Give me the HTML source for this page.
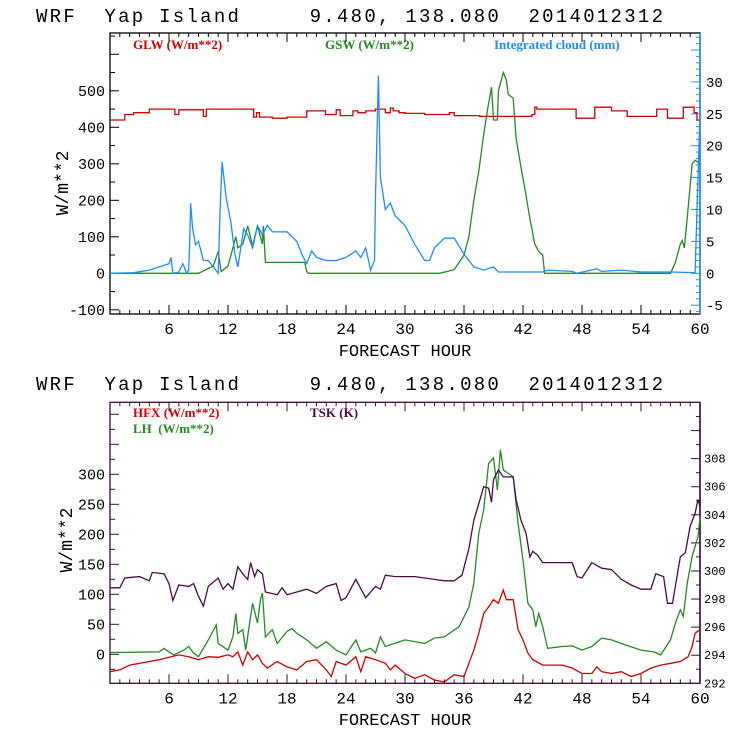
<!DOCTYPE html>
<html><head><meta charset="utf-8"><style>
html,body{margin:0;padding:0;background:#fff;}
svg{display:block;}
text{font-family:"Liberation Mono",monospace;}
.lg{font-family:"Liberation Serif",serif;font-weight:bold;font-size:13px;}
</style></head><body>
<svg id="chart" width="740" height="740" viewBox="0 0 740 740" xmlns="http://www.w3.org/2000/svg">
<text x="36" y="22" font-size="19" textLength="627" xml:space="preserve">WRF  Yap Island     9.480, 138.080  2014012312</text>
<text x="36" y="390" font-size="19" textLength="627" xml:space="preserve">WRF  Yap Island     9.480, 138.080  2014012312</text>
<text class="lg" x="133" y="49" fill="#d00000">GLW (W/m**2)</text>
<text class="lg" x="325" y="49" fill="#228b22">GSW (W/m**2)</text>
<text class="lg" x="494" y="49" fill="#1e8cff">Integrated cloud (mm)</text>
<text class="lg" x="133" y="417" fill="#d00000">HFX (W/m**2)</text>
<text class="lg" x="133" y="433" fill="#228b22" xml:space="preserve">LH  (W/m**2)</text>
<text class="lg" x="310" y="417" fill="#4b0a4b">TSK (K)</text>
<text x="405" y="356" font-size="17" text-anchor="middle">FORECAST HOUR</text>
<text x="405" y="725" font-size="17" text-anchor="middle">FORECAST HOUR</text>
<text transform="translate(68,183) rotate(-90)" font-size="18" text-anchor="middle">W/m**2</text>
<text transform="translate(72,540) rotate(-90)" font-size="18" text-anchor="middle">W/m**2</text>
<g id="g"></g>
</svg>
<script>
const glwHours=[0,1.5,2.4,4,6.3,6.6,7,9.5,9.8,12,14.6,14.9,15.2,16.5,18,20,21.9,23,23.4,24,24.7,25.2,26,27,28,28.5,28.8,29.4,30,31,32,34.5,35,35.5,37.6,42.9,43.2,43.4,43.8,47.4,47.6,49.3,49.6,51,51.3,52.6,55.3,55.6,56.7,58.3,59.4,59.7,60];
const glwValues=[420,435,440,450,450,435,448,430,450,450,428,440,428,425,428,445,435,448,432,432,445,440,445,450,440,453,445,440,438,438,435,440,432,432,430,435,455,450,450,425,425,455,455,445,445,430,430,450,425,455,440,420,420];
const gswHours=[0,9,10.5,11,11.3,12,12.8,13,13.5,14,14.5,15,15.5,15.6,15.8,17,19.8,20,20.2,33.5,35,36,36.5,37,37.5,38,38.4,38.8,39,39.4,39.5,40,40.3,40.5,41,41.3,41.8,42.2,42.7,43.2,43.6,44,44.2,57,57.5,58,58.2,58.4,58.7,59.2,59.5,60];
const gswValues=[0,0,20,60,5,20,100,70,80,130,75,130,80,130,30,30,30,5,0,0,10,50,100,200,280,380,450,510,420,420,500,550,530,490,480,370,290,230,150,80,60,50,0,0,30,80,90,70,150,300,310,300];
const cloudHours=[0,2.4,4,5,6,6.2,6.4,7,7.4,7.8,8,8.1,8.2,8.4,8.7,9,9.5,10,10.5,11,11.2,11.4,11.8,12.3,12.7,13,13.3,13.6,14,14.5,15,15.5,16,16.5,17,18,19,19.5,20,20.5,21,22,23,24,25,25.5,26,26.5,26.9,27,27.3,27.5,28,28.5,29,30,31,32,32.5,33,34,35,36,37,38,39,39.5,44,44.5,47,47.5,49.5,50,52,54,57,59.5,59.7,60];
const cloudValues=[0,0.1,0.5,1,1.5,2.5,0,0.2,1.5,0,0.5,5,11,7,4.5,5,2,2,1,0,10,17.5,12,8,3,1,4,7,6,4,7.5,6,7.5,6.5,6.5,6.5,5,3,1.5,3.5,2.5,2,2,2.5,3.5,2.5,4,0.5,2,12,31,15,10,11,9,7.5,4.5,2,2,4,5.5,5.5,3,1,0.5,1,0.2,0.2,0.5,0.3,0,0.7,0.3,0.5,0.2,0.2,0.1,10,25];
const hfxHours=[0,1,2,4,5,6,7,8,9,10,11,12,12.5,13,13.5,14,14.5,15,15.5,16,17,18,19,20,21,22,22.5,23,24,25,25.5,26,27,28,28.5,29,30,31,32,33,34,35,36,36.5,37,37.5,38,38.5,39,39.5,40,40.3,41,41.5,42,42.5,43,44,46,47,48,49,49.5,50,51,52,53,54,55,56,57,58,58.8,59.2,59.5,60];
const hfxValues=[-29,-26,-18,-12,-9,-5,-1,-4,-9,-4,-5,-1,-4,4,-18,4,-9,-1,-15,-23,-12,-21,-26,-12,-9,-26,-37,-12,-18,-4,-29,-4,-9,-15,-26,-18,-32,-40,-34,-43,-46,-34,-37,-15,7,35,68,79,91,85,107,91,91,41,24,2,-9,-18,-18,-23,-32,-32,-21,-29,-32,-29,-37,-32,-23,-18,-15,-12,-4,13,35,41];
const lhHours=[0,5,5.5,6,6.5,7.5,8,8.5,9,10,10.8,11,12,12.5,12.8,13,13.5,13.8,14.2,14.5,15,15.3,15.5,15.8,16.5,17,18,18.5,19,20,21,22,23,24,25,25.5,26.5,27,27.5,28,30,32,33,34,35.5,36.5,37,37.5,38,38.5,39,39.4,39.7,40,41,41.5,42,42.5,43,43.3,43.6,44,44.5,46,47,48,49,50,51,52,54,55.3,56,57,57.5,58,58.3,58.7,59.2,59.8,60];
const lhValues=[3,4,10,4,-1,7,13,2,-4,24,49,18,7,29,68,35,41,7,52,85,52,91,102,29,41,18,38,43,35,24,10,21,7,-1,24,4,10,2,29,13,24,18,27,29,46,79,118,202,241,318,327,274,341,307,296,218,157,85,74,46,68,46,10,13,14,7,13,27,24,18,7,4,-1,24,52,74,63,118,163,196,229];
const tskHours=[0,1,1.5,3,4,4.3,5.5,6,6.4,7,8,8.5,9,9.5,10,11,11.5,12,12.5,13,13.5,14,14.3,14.7,15,15.5,15.8,17,17.5,18,19,20,21,22,23,23.5,24,25,26,27,27.5,28,29,31,33,34,35,35.8,36.5,37,37.5,38,38.5,38.8,39,39.5,40,41,41.3,41.8,42.3,42.7,43,43.5,44,45,47,47.5,48,49,50,51,52,53,54,55,55.5,56.3,56.7,57.2,58,58.5,59,59.5,59.8,60];
const tskValues=[298.8,298.8,299.5,299.6,299.3,299.9,299.8,299.1,297.9,299.0,298.9,299.1,298.2,297.5,298.9,299.5,298.7,299.1,298.7,300.3,299.8,299.4,300.6,299.6,300.1,299.8,298.5,298.3,298.8,298.3,298.5,298.7,298.4,298.9,299.1,297.9,298.1,299.4,298.1,298.9,298.7,299.7,299.6,299.6,299.4,299.3,299.3,299.7,301.6,303.6,304.8,306.0,305.9,304.9,306.5,307.2,306.7,306.7,305.1,303.6,302.7,301.0,301.4,301.1,300.6,300.6,300.6,299.6,299.5,300.6,300.2,300.1,299.4,299.0,298.7,298.7,299.8,299.6,297.7,297.7,301.0,301.3,303.2,304.1,305.1,304.6];
const xTicks=[6,12,18,24,30,36,42,48,54,60];
const topLeftTicks=[-100,0,100,200,300,400,500];
const topRightTicks=[-5,0,5,10,15,20,25,30];
const botLeftTicks=[0,50,100,150,200,250,300];
const botRightTicks=[292,294,296,298,300,302,304,306,308];

const NS='http://www.w3.org/2000/svg';
const G=document.getElementById('g');
const X0=110,X1=700;
const x=h=>X0+(X1-X0)*h/60;
const yTL=v=>273.3-v*0.365;
const yTR=v=>273.3-v*6.38;
const yBL=v=>654.3-v*0.6;
const yBR=v=>683.3-(v-292)*14.04;
function mk(tag,a){const e=document.createElementNS(NS,tag);for(const k in a)e.setAttribute(k,a[k]);G.appendChild(e);return e;}
function step(hs,vs,yf,color,name){
  let d='M'+x(hs[0])+' '+yf(vs[0]);
  for(let i=1;i<hs.length;i++){d+=' H'+x(hs[i]).toFixed(1)+' V'+yf(vs[i]).toFixed(1);}
  const p=mk('path',{d:d,fill:'none',stroke:color,'stroke-width':1.3});
  
  
}
function line(hs,vs,yf,color,name){
  let d='M'+x(hs[0])+' '+yf(vs[0]);
  for(let i=1;i<hs.length;i++){d+=' L'+x(hs[i]).toFixed(1)+' '+yf(vs[i]).toFixed(1);}
  const p=mk('path',{d:d,fill:'none',stroke:color,'stroke-width':1.3});
  
  
}
function frame(y0,y1,col,rcol,name){
  const r=mk('rect',{x:X0,y:y0,width:X1-X0,height:y1-y0,fill:'none',stroke:col,'stroke-width':1.3});
  
  
  mk('line',{x1:X1,y1:y0,x2:X1,y2:y1,stroke:rcol,'stroke-width':1.5});
  for(let h=1;h<60;h++){const L=(h%6==0)?9:4;
    mk('line',{x1:x(h),y1:y1,x2:x(h),y2:y1-L,stroke:col});
    mk('line',{x1:x(h),y1:y0,x2:x(h),y2:y0+L,stroke:col});}
  xTicks.forEach(h=>{const t=mk('text',{x:x(h),y:y1+20,'font-size':16,'text-anchor':'middle'});t.textContent=h;
    
    });
}
frame(33,314,'#000','#1e8cff','plot-frame-top');
for(let v=-100;v<=650;v+=50){const y=yTL(v);if(y<34||y>313)continue;mk('line',{x1:X0,y1:y,x2:X0+(v%100==0?9:5),y2:y,stroke:'#000'});}
topLeftTicks.forEach(v=>{const t=mk('text',{x:105,y:yTL(v)+5,'font-size':15,'text-anchor':'end'});t.textContent=v;
  
  });
for(let v=-6;v<=37;v++){const y=yTR(v);if(y<34||y>313)continue;mk('line',{x1:X1,y1:y,x2:X1-(v%5==0?9:4),y2:y,stroke:'#1e8cff'});}
topRightTicks.forEach(v=>{const t=mk('text',{x:706,y:yTR(v)+5,'font-size':14});t.textContent=v;
  
  });
step(glwHours,glwValues,yTL,'#d00000','glw-line');
line(gswHours,gswValues,yTL,'#228b22','gsw-line');
line(cloudHours,cloudValues,yTR,'#1e8cff','cloud-line');
frame(402.3,683.3,'#3c0a3c','#3c0a3c','plot-frame-bottom');
for(let v=-50;v<=425;v+=25){const y=yBL(v);if(y<403||y>682)continue;mk('line',{x1:X0,y1:y,x2:X0+(v%50==0?9:5),y2:y,stroke:'#3c0a3c'});}
botLeftTicks.forEach(v=>{const t=mk('text',{x:105,y:yBL(v)+5,'font-size':15,'text-anchor':'end'});t.textContent=v;
  
  });
for(let v=292;v<=312;v+=1){const y=yBR(v);if(y<403||y>682)continue;mk('line',{x1:X1,y1:y,x2:X1-(v%2==0?9:4),y2:y,stroke:'#3c0a3c'});}
botRightTicks.forEach(v=>{const t=mk('text',{x:704,y:yBR(v)+4,'font-size':12});t.textContent=v;
  
  });
line(hfxHours,hfxValues,yBL,'#d00000','hfx-line');
line(lhHours,lhValues,yBL,'#228b22','lh-line');
line(tskHours,tskValues,yBR,'#4b0a4b','tsk-line');
</script>
</body></html>
